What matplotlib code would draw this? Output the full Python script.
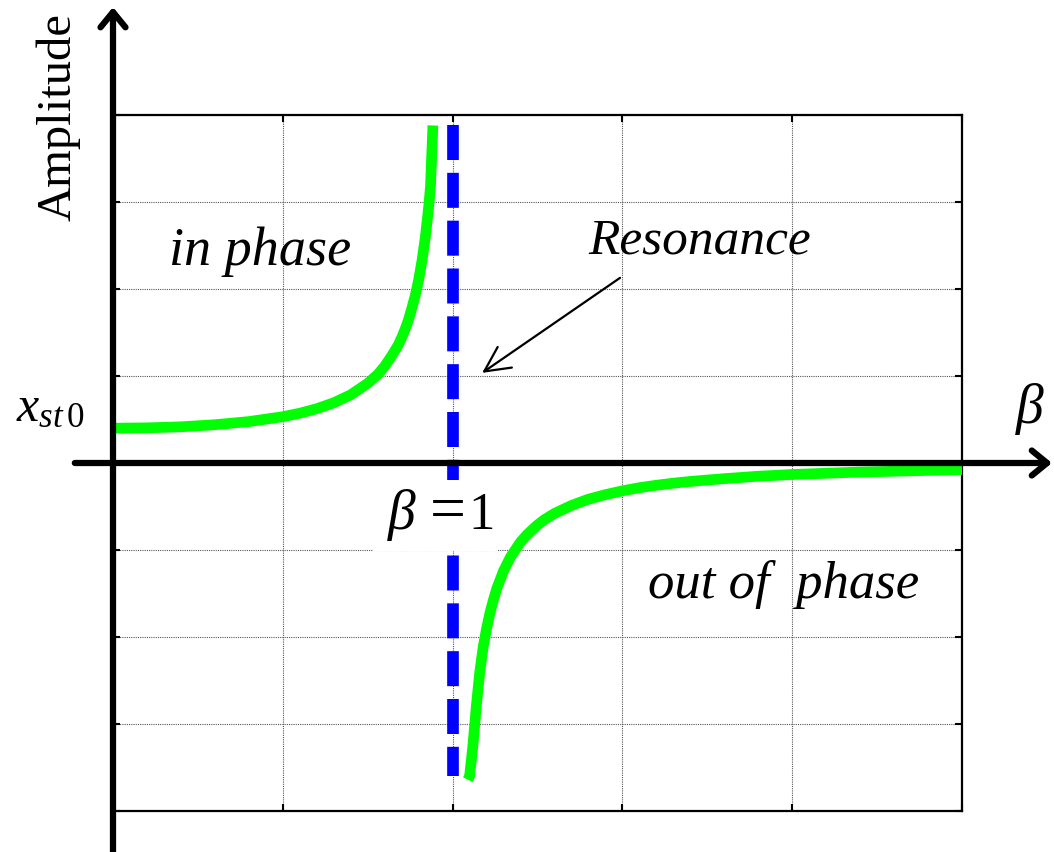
import matplotlib
matplotlib.use('Agg')
import matplotlib.pyplot as plt
from matplotlib.patches import Rectangle

plt.rcParams['font.family'] = ['Liberation Serif', 'DejaVu Serif']
plt.rcParams['mathtext.fontset'] = 'custom'
plt.rcParams['mathtext.rm'] = 'Liberation Serif'
plt.rcParams['mathtext.it'] = 'Liberation Serif:italic'

# frequency ratio beta and amplitude (below resonance)
beta_low = [0.0, 0.1, 0.2, 0.3, 0.4, 0.5, 0.55, 0.6, 0.65, 0.7, 0.75, 0.78,
            0.8, 0.82, 0.84, 0.85, 0.86, 0.87, 0.88, 0.89, 0.9, 0.91, 0.92,
            0.93, 0.935, 0.942]
amp_low = [1.0, 1.01, 1.04, 1.10, 1.19, 1.33, 1.43, 1.56, 1.73, 1.96, 2.29, 2.55,
           2.78, 3.07, 3.39, 3.60, 3.84, 4.11, 4.45, 4.81, 5.26, 5.82, 6.51,
           7.40, 7.96, 9.7]

# above resonance (out of phase)
beta_high = [1.045, 1.05, 1.06, 1.07, 1.08, 1.09, 1.10, 1.11, 1.12, 1.13, 1.15,
             1.17, 1.2, 1.22, 1.25, 1.27, 1.3, 1.35, 1.4, 1.45, 1.5, 1.55, 1.6,
             1.65, 1.7, 1.8, 1.9, 2.0, 2.2, 2.5]
amp_high = [-9.1, -9.0, -8.1, -6.97, -6.01, -5.29, -4.76, -4.31, -3.94, -3.61, -3.10,
            -2.71, -2.27, -2.05, -1.78, -1.63, -1.45, -1.22, -1.04, -0.91, -0.8, -0.71,
            -0.64, -0.58, -0.53, -0.45, -0.38, -0.33, -0.26, -0.19]

# resonance line
res_beta = 1.0
res_span = [9.7, -9.0]

x_grid = [0, 0.5, 1.0, 1.5, 2.0, 2.5]
y_grid = [-10, -7.5, -5, -2.5, 0, 2.5, 5, 7.5, 10]

fig = plt.figure(figsize=(10.54, 8.53), dpi=100)
ax = fig.add_axes([113 / 1054, 41 / 853, 849 / 1054, 696 / 853])
ax.set_xlim(0, 2.5)
ax.set_ylim(-10, 10)
ax.set_xticks(x_grid)
ax.set_yticks(y_grid)
ax.set_xticklabels([])
ax.set_yticklabels([])
ax.tick_params(direction='in', length=5, width=1.5, top=True, right=True)
ax.grid(True, linestyle=(0, (1, 1)), color='#555555', linewidth=0.8)
for side in ['top', 'right', 'bottom']:
    ax.spines[side].set_linewidth(1.6)
ax.spines['left'].set_visible(False)

# curves
ax.plot(beta_low, amp_low, color='#00ff00', lw=7.7, solid_capstyle='butt', zorder=3)
ax.plot(beta_high, amp_high, color='#00ff00', lw=7.7, solid_capstyle='butt', zorder=3)
ax.plot([res_beta, res_beta], res_span, color='#0000ff', lw=8.4,
        linestyle=(0, (3, 1.1)), dash_capstyle='butt', zorder=4)

# axis arrows
ax.annotate('', xy=(1.106, 0), xytext=(-0.045, 0), xycoords=ax.get_yaxis_transform(),
            arrowprops=dict(arrowstyle='->,head_length=0.55,head_width=0.45', lw=4.5,
                            color='k', shrinkA=0, shrinkB=0, mutation_scale=20),
            annotation_clip=False, zorder=5)
ax.annotate('', xy=(0, 1.155), xytext=(0, -0.059), xycoords=ax.get_xaxis_transform(),
            arrowprops=dict(arrowstyle='->,head_length=0.55,head_width=0.45', lw=4.5,
                            color='k', shrinkA=0, shrinkB=0, mutation_scale=20),
            annotation_clip=False, zorder=5)

# resonance pointer
ax.annotate('', xy=(1.087, 2.59), xytext=(1.493, 5.32),
            arrowprops=dict(arrowstyle='->,head_length=0.9,head_width=0.45', lw=1.6,
                            color='k', shrinkA=0, shrinkB=0, mutation_scale=20))

# labels
ax.text(-0.162, 9.97, 'Amplitude', rotation=90, fontsize=35, ha='center', va='center',
        clip_on=False)
ax.text(2.70, 1.58, 'β', fontsize=40, style='italic', ha='center', va='center',
        clip_on=False)
ax.text(-0.186, 1.58, r'$x_{st\,0}$', fontsize=36, ha='center', va='center', clip_on=False)

# white backing behind the "β = 1" label
ax.add_patch(Rectangle((0.766, -2.53), 0.368, 2.04, facecolor='white',
                       edgecolor='none', zorder=4.5))
ax.text(0.851, -1.87, 'β', fontsize=40, style='italic', ha='center', va='baseline', zorder=6)
ax.text(0.985, -1.87, '=', fontsize=46, ha='center', va='baseline', zorder=6)
ax.text(1.085, -1.87, '1', fontsize=38, ha='center', va='baseline', zorder=6)

ax.text(0.433, 6.1, 'in phase', fontsize=39, style='italic', ha='center', va='center')
ax.text(1.728, 6.4, 'Resonance', fontsize=37, style='italic', ha='center', va='center')
ax.text(1.976, -3.45, 'out of  phase', fontsize=38, style='italic', ha='center', va='center')

fig.savefig('out.png', dpi=100)
